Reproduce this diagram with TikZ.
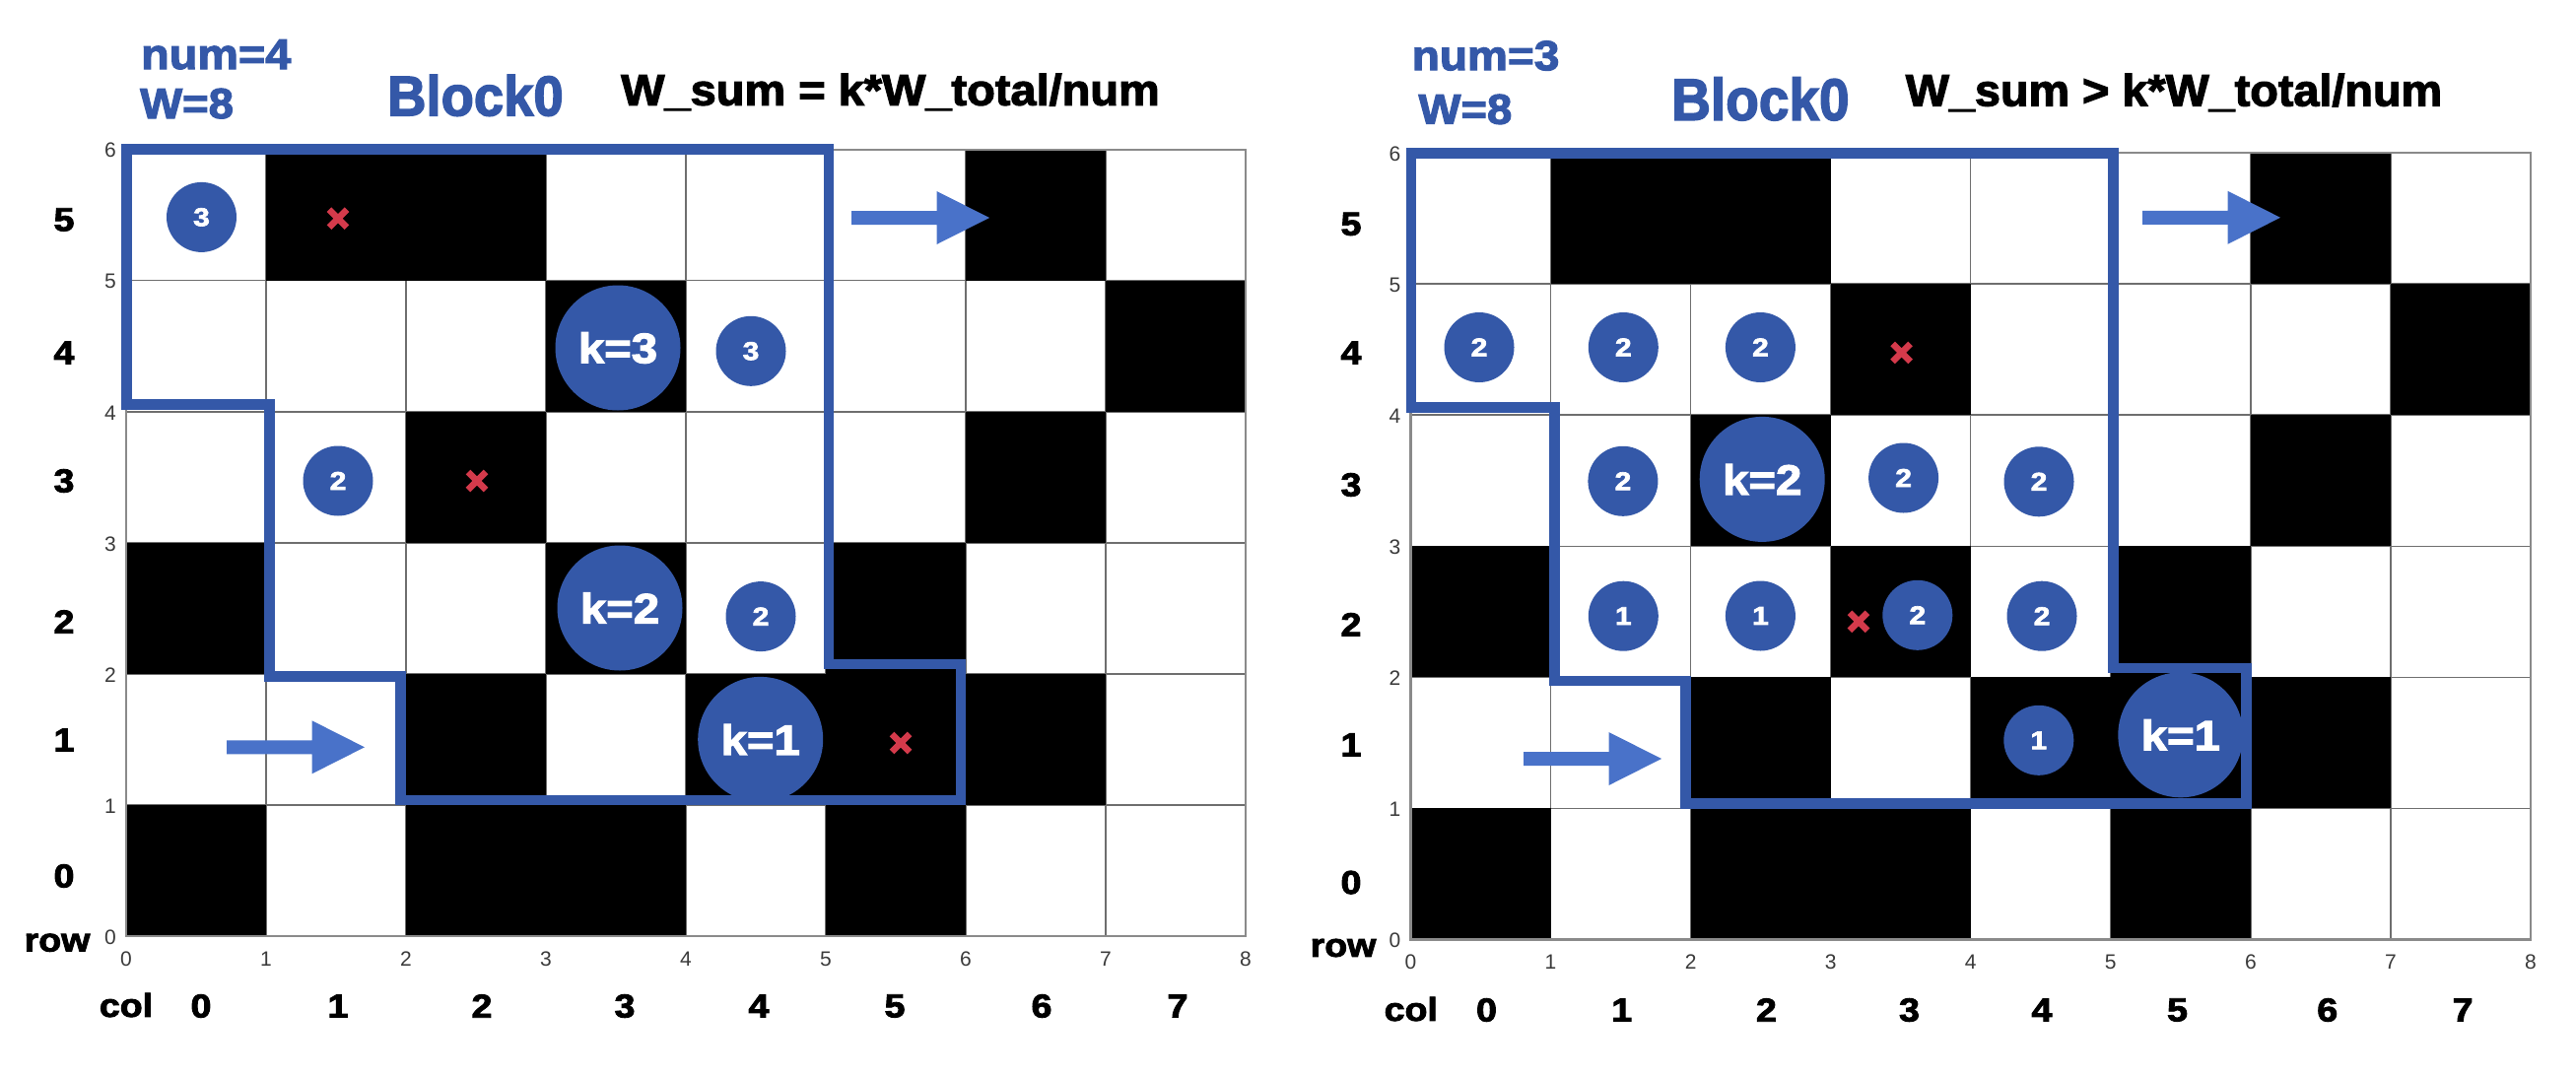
\documentclass[tikz,border=0pt]{standalone}
\usepackage{graphicx}
\usepackage{fontspec}
\setmainfont{Liberation Sans}
\newfontfamily\hv[FakeBold=2.5]{Liberation Sans Bold}
\definecolor{cblue}{RGB}{52,88,168}
\definecolor{arrowblue}{RGB}{73,114,201}
\definecolor{xred}{RGB}{212,58,75}
\definecolor{gline}{RGB}{110,110,110}
\definecolor{gborder}{RGB}{138,138,138}
\definecolor{ticktext}{RGB}{58,58,58}
\newcommand\fsz[1]{\fontsize{#1}{#1}\selectfont}
\tikzset{
  smallc/.style={circle, fill=cblue, minimum size=71pt, inner sep=0pt, text=white, font=\hv\fsz{26}},
  bigc/.style={circle, fill=cblue, minimum size=127pt, inner sep=0pt, text=white, font=\hv\fsz{43}},
  lab/.style={inner sep=0pt, font=\hv\fsz{33.5}},
  ticklab/.style={inner sep=0pt, text=ticktext, font=\fsz{21}},
  blocktxt/.style={inner sep=0pt, anchor=base west},
  outline/.style={draw=cblue, line width=10.5pt, line join=miter},
  gridl/.style={draw=gline, line width=1.4pt},
  gridb/.style={draw=gborder, line width=2.2pt},
  redx/.pic={\draw[xred, line width=6.5pt] (-9,-9) -- (9,9) (-9,9) -- (9,-9);},
  fatarrow/.pic={\fill[arrowblue] (0,-7) -- (86.5,-7) -- (86.5,-27) -- (140,0) -- (86.5,27) -- (86.5,7) -- (0,7) -- cycle;}
}
% board: origin x, origin y (image px of col0/row0 corner), cell w, cell h, name prefix
\newcommand\board[5]{%
  \begin{scope}[shift={(#1,#2)}, xscale=#3, yscale=-#4]
    \foreach \c in {1,...,7} \draw[gridl] (\c,0) -- (\c,6);
    \foreach \r in {1,...,5} \draw[gridl] (0,\r) -- (8,\r);
    \foreach \c/\r in {1/5,2/5,6/5,3/4,7/4,2/3,6/3,0/2,3/2,5/2,2/1,4/1,5/1,6/1,0/0,2/0,3/0,5/0}
      \fill[black] (\c,\r) rectangle ++(1,1);
    \draw[gridb] (0,0) rectangle (8,6);
    \foreach \c in {0,...,8} \node[ticklab] (#5bt\c) at (\c,-0.173) {\c};
    \foreach \r in {0,...,6} \node[ticklab] (#5st\r) at (-0.113,\r-0.0075) {\r};
  \end{scope}}
\begin{document}
\begin{tikzpicture}[x=1pt,y=-1pt]
\useasboundingbox (0,0) rectangle (2614,1092);
\fill[white] (0,0) rectangle (2614,1092);

% ---------------- left board ----------------
\board{128}{950}{142}{133.05}{L}
\node[blocktxt, text=cblue] (numL) at (143,70) {\hv\fsz{43.3}\scalebox{1.08}[1]{num=4}};
\node[blocktxt, text=cblue] (wL) at (142,120) {\hv\fsz{43.3}\scalebox{1.05}[1]{W=8}};
\node[blocktxt, text=cblue] (blkL) at (393,117.3) {\hv\fsz{57.3}\scalebox{0.95}[1]{Block0}};
\node[blocktxt] (eqL) at (630,106.7) {\hv\fsz{44.3}\scalebox{1.06}[1]{W\_sum = k*W\_total/num}};

\foreach \r/\y in {5/223,4/358,3/488,2/631,1/751,0/889}
  \node[lab] (Lrow\r) at (65,\y) {\scalebox{1.12}[1]{\r}};
\node[lab] (Lrowtxt) at (58,956.7) {\scalebox{1.12}[1]{row}};
\node[lab] (Lcoltxt) at (128,1020) {\scalebox{1.12}[1]{col}};
\foreach \c/\x in {0/204,1/343,2/489,3/634,4/770,5/908,6/1057,7/1195}
  \node[lab] (Lcol\c) at (\x,1021) {\scalebox{1.12}[1]{\c}};

\draw[outline] (128.5,151.7) -- (840.8,151.7) -- (840.8,674) -- (975,674) -- (975,812)
  -- (406.3,812) -- (406.3,686.7) -- (273.5,686.7) -- (273.5,410.5) -- (128.5,410.5) -- cycle;

\pic at (864,221) {fatarrow};
\pic at (230,758.3) {fatarrow};

\node[smallc] (La) at (204.5,220.4) {\scalebox{1.15}[1]{3}};
\node[smallc] (Lb) at (762,356.3) {\scalebox{1.15}[1]{3}};
\node[smallc] (Lc) at (343,488) {\scalebox{1.15}[1]{2}};
\node[smallc] (Ld) at (772,625.6) {\scalebox{1.15}[1]{2}};
\node[bigc] (Lk3) at (627,353) {\scalebox{1.1}[1]{k=3}};
\node[bigc] (Lk2) at (629,617) {\scalebox{1.1}[1]{k=2}};
\node[bigc] (Lk1) at (771.7,750.4) {\scalebox{1.1}[1]{k=1}};
\pic at (343,221.7) {redx};
\pic at (484,488) {redx};
\pic at (914,754) {redx};

% ---------------- right board ----------------
\board{1431.5}{953.5}{142.06}{133.1}{R}
\node[blocktxt, text=cblue] (numR) at (1432.6,71.2) {\hv\fsz{42.6}\scalebox{1.08}[1]{num=3}};
\node[blocktxt, text=cblue] (wR) at (1439.3,125.7) {\hv\fsz{42.9}\scalebox{1.06}[1]{W=8}};
\node[blocktxt, text=cblue] (blkR) at (1696,121.8) {\hv\fsz{59.8}\scalebox{0.92}[1]{Block0}};
\node[blocktxt] (eqR) at (1933.6,107.5) {\hv\fsz{45.4}\scalebox{1.03}[1]{W\_sum > k*W\_total/num}};

\foreach \r/\y in {5/227.4,4/358,3/492,2/633.8,1/755.9,0/895.6}
  \node[lab] (Rrow\r) at (1371,\y) {\scalebox{1.12}[1]{\r}};
\node[lab] (Rrowtxt) at (1363,962) {\scalebox{1.12}[1]{row}};
\node[lab] (Rcoltxt) at (1431.8,1024) {\scalebox{1.12}[1]{col}};
\foreach \c/\x in {0/1508.5,1/1645.7,2/1792.4,3/1937.5,4/2072,5/2209.5,6/2361.7,7/2499}
  \node[lab] (Rcol\c) at (\x,1025) {\scalebox{1.12}[1]{\c}};

\draw[outline] (1432,155.6) -- (2144.7,155.6) -- (2144.7,677.8) -- (2279.3,677.8) -- (2279.3,815.4)
  -- (1710.6,815.4) -- (1710.6,690.8) -- (1577.7,690.8) -- (1577.7,413.4) -- (1432,413.4) -- cycle;

\pic at (2174,220.8) {fatarrow};
\pic at (1546,770) {fatarrow};

\node[smallc] (Ra) at (1501,352.5) {\scalebox{1.15}[1]{2}};
\node[smallc] (Rb) at (1647.3,352.5) {\scalebox{1.15}[1]{2}};
\node[smallc] (Rc) at (1786.4,352.5) {\scalebox{1.15}[1]{2}};
\node[smallc] (Rd) at (1646.9,488.3) {\scalebox{1.15}[1]{2}};
\node[smallc] (Re) at (1931.6,485) {\scalebox{1.15}[1]{2}};
\node[smallc] (Rf) at (2069,488.8) {\scalebox{1.15}[1]{2}};
\node[smallc] (Rg) at (1647.3,625.2) {\scalebox{1.15}[1]{1}};
\node[smallc] (Rh) at (1786.4,625) {\scalebox{1.15}[1]{1}};
\node[smallc] (Ri) at (1945.8,624.3) {\scalebox{1.15}[1]{2}};
\node[smallc] (Rj) at (2072,625.2) {\scalebox{1.15}[1]{2}};
\node[smallc] (Rk) at (2068.8,751.3) {\scalebox{1.15}[1]{1}};
\node[bigc] (Rk2) at (1788.2,486.4) {\scalebox{1.1}[1]{k=2}};
\node[bigc] (Rk1) at (2212.8,745.8) {\scalebox{1.1}[1]{k=1}};
\pic at (1929.6,357.9) {redx};
\pic at (1886,630.8) {redx};
\end{tikzpicture}
\end{document}
